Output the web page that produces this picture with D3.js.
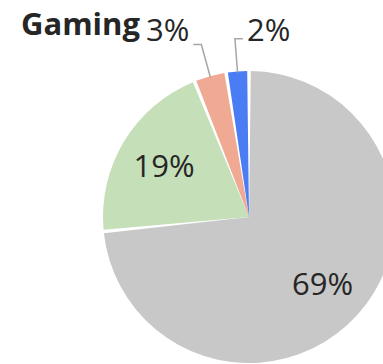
<!DOCTYPE html>
<html>
<head>
<meta charset="utf-8">
<script src="https://cdn.jsdelivr.net/npm/d3@7"></script>
<style>
  html, body { margin: 0; padding: 0; background: #ffffff; }
  svg { display: block; }
</style>
</head>
<body>
<svg id="chart" width="383" height="364"></svg>
<script>
// Share of segment (percent), drawn clockwise from 12 o'clock
const categories = ["Other", "Mid", "Small", "Tiny"];
const values = [69, 19, 3, 2];
const labels = ["69%", "19%", "3%", "2%"];
const colors = ["#c8c8c8", "#c5dfb9", "#f0a993", "#4a7cf4"];
const title = "Gaming";

const width = 383, height = 364;
const cx = 249, cy = 217, radius = 146;
const gap = 3.6;
const labelSize = 31;

const svg = d3.select("#chart");

svg.append("text")
  .attr("x", 21)
  .attr("y", 35)
  .attr("font-family", "'Open Sans', sans-serif")
  .attr("font-weight", 700)
  .attr("font-size", 31)
  .attr("fill", "#262626")
  .text(title);

const data = categories.map((c, i) => ({ cat: c, value: values[i], label: labels[i], color: colors[i] }));

const pie = d3.pie()
  .sort(null)
  .value(d => d.value)
  .startAngle(0)
  .endAngle(2 * Math.PI)
  .padAngle(gap / radius);

const arcs = pie(data);

const arc = d3.arc().innerRadius(0).outerRadius(radius).padRadius(radius);
const labelArc = d3.arc().innerRadius(radius * 0.68).outerRadius(radius * 0.68);

const g = svg.append("g").attr("transform", `translate(${cx},${cy})`);

g.selectAll("path.slice")
  .data(arcs)
  .join("path")
  .attr("class", "slice")
  .attr("d", arc)
  .attr("fill", d => d.data.color);

const small = d => d.data.value < 5;

// Labels inside the larger slices
g.selectAll("text.inner")
  .data(arcs.filter(d => !small(d)))
  .join("text")
  .attr("class", "inner")
  .attr("transform", d => `translate(${labelArc.centroid(d)})`)
  .attr("text-anchor", "middle")
  .attr("dy", "0.36em")
  .attr("font-family", "'Open Sans', sans-serif")
  .attr("font-size", labelSize)
  .attr("fill", "#262626")
  .text(d => d.data.label);

// Leader lines and outside labels for the thin slices
const outer = arcs.filter(small);
const mid = d => (d.startAngle + d.endAngle) / 2;
const pt = (a, r) => [r * Math.sin(a), -r * Math.cos(a)];

outer.forEach((d, i) => {
  const a = mid(d);
  const p0 = pt(a, radius - 1);
  const p1 = pt(a, radius * 1.225);
  const dir = i === 0 ? -1 : 1;
  const p2 = [p1[0] + dir * 8, p1[1]];
  g.append("polyline")
    .attr("points", [p0, p1, p2].map(p => p.join(",")).join(" "))
    .attr("fill", "none")
    .attr("stroke", "#a6a6a6")
    .attr("stroke-width", 1.5);
  g.append("text")
    .attr("x", p2[0] + dir * 4)
    .attr("y", -176.5)
    .attr("text-anchor", dir < 0 ? "end" : "start")
    .attr("font-family", "'Open Sans', sans-serif")
    .attr("font-size", labelSize)
    .attr("fill", "#262626")
    .text(d.data.label);
});
</script>
</body>
</html>
